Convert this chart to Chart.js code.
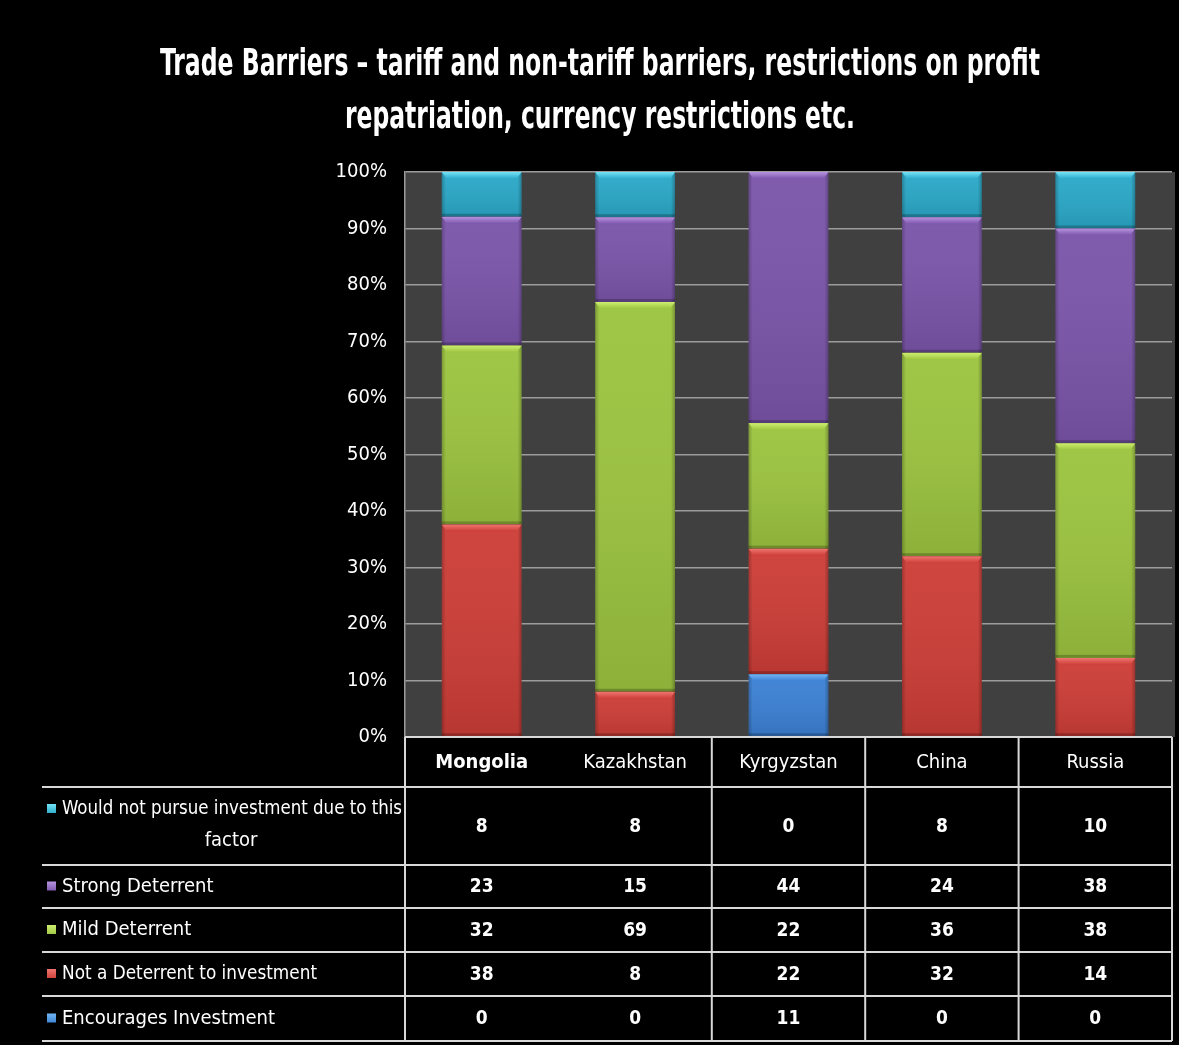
<!DOCTYPE html>
<html>
<head>
<meta charset="utf-8">
<script src="https://cdn.jsdelivr.net/npm/chart.js@4.4.1/dist/chart.umd.min.js"></script>
<style>
  html, body { margin: 0; padding: 0; background: #000; }
  #wrap { width: 1179px; height: 1045px; }
</style>
</head>
<body>
<div id="wrap"><canvas id="tradeChart" width="1179" height="1045"></canvas></div>
<script>
// survey responses per country (number of respondents)
const countries = ["Mongolia", "Kazakhstan", "Kyrgyzstan", "China", "Russia"];
const wouldNotPursue = [8, 8, 0, 8, 10];
const strongDeterrent = [23, 15, 44, 24, 38];
const mildDeterrent = [32, 69, 22, 36, 38];
const notDeterrent = [38, 8, 22, 32, 14];
const encourages = [0, 0, 11, 0, 0];

const titleLines = [
  "Trade Barriers \u2013 tariff and non-tariff barriers, restrictions on profit",
  "repatriation, currency restrictions etc."
];

// bottom-to-top stacking order
const series = [
  { label: "Encourages Investment", values: encourages, color: "#3b80d4", light: "#72b6f4" },
  { label: "Not a Deterrent to investment", values: notDeterrent, color: "#cd3d37", light: "#f07570" },
  { label: "Mild Deterrent", values: mildDeterrent, color: "#9cc43f", light: "#cdee70" },
  { label: "Strong Deterrent", values: strongDeterrent, color: "#7b55aa", light: "#b693e0" },
  { label: "Would not pursue investment due to this factor", values: wouldNotPursue, color: "#2aa8c8", light: "#74e4f7" }
];

const totals = countries.map((_, i) => series.reduce((s, d) => s + d.values[i], 0));

const FONT = "'Liberation Sans Narrow', 'DejaVu Sans Condensed', 'Noto Sans', sans-serif";
const LINE = "#d8d8d8";

// table rows under the plot, top to bottom (same order as the legend)
const tableRows = series.slice().reverse();
const rowEdges = [737, 787, 865, 908, 952, 996, 1041];
const tableLeft = 42;

function shade(ctx, x0, y0, x1, y1, light, base) {
  const w = x1 - x0, h = y1 - y0;
  if (h <= 0) return;
  // soft vertical shading
  const g = ctx.createLinearGradient(0, y0, 0, y1);
  g.addColorStop(0, "rgba(255,255,255,0.04)");
  g.addColorStop(1, "rgba(0,0,0,0.10)");
  ctx.fillStyle = g;
  ctx.fillRect(x0, y0, w, h);
  // side edges
  const sg = ctx.createLinearGradient(x0, 0, x1, 0);
  sg.addColorStop(0, "rgba(0,0,0,0.22)");
  sg.addColorStop(0.05, "rgba(0,0,0,0)");
  sg.addColorStop(0.95, "rgba(0,0,0,0)");
  sg.addColorStop(1, "rgba(0,0,0,0.25)");
  ctx.fillStyle = sg;
  ctx.fillRect(x0, y0, w, h);
  // bevelled top
  const b = Math.min(7, h / 2);
  const tg = ctx.createLinearGradient(0, y0, 0, y0 + b);
  tg.addColorStop(0, light);
  tg.addColorStop(1, base);
  ctx.fillStyle = tg;
  ctx.beginPath();
  ctx.moveTo(x0, y0);
  ctx.lineTo(x1, y0);
  ctx.lineTo(x1 - 5, y0 + b);
  ctx.lineTo(x0 + 5, y0 + b);
  ctx.closePath();
  ctx.fill();
  // darker bottom lip
  ctx.fillStyle = "rgba(0,0,0,0.22)";
  ctx.fillRect(x0, y1 - 3, w, 3);
}

const decorations = {
  id: "decorations",
  beforeDraw(chart) {
    const { ctx, chartArea: a } = chart;
    ctx.save();
    ctx.fillStyle = "#000";
    ctx.fillRect(0, 0, chart.width, chart.height);
    ctx.fillStyle = "#404040";
    ctx.fillRect(a.left, a.top, a.right - a.left + 3, a.bottom - a.top);
    // title
    ctx.fillStyle = "#fff";
    ctx.textAlign = "center";
    ctx.textBaseline = "alphabetic";
    ctx.font = "bold 38px " + FONT;
    ctx.fillText(titleLines[0], 600, 75, 880);
    ctx.fillText(titleLines[1], 600, 128, 510);
    ctx.restore();
  },
  afterDatasetsDraw(chart) {
    const { ctx } = chart;
    ctx.save();
    chart.data.datasets.forEach((ds, di) => {
      const meta = chart.getDatasetMeta(di);
      meta.data.forEach(bar => {
        const p = bar.getProps(["x", "y", "base", "width"], true);
        shade(ctx, p.x - p.width / 2, Math.min(p.y, p.base), p.x + p.width / 2, Math.max(p.y, p.base), series[di].light, series[di].color);
      });
    });
    ctx.restore();
  },
  afterDraw(chart) {
    const { ctx, chartArea: a } = chart;
    const x = chart.scales.x;
    ctx.save();
    ctx.strokeStyle = LINE;
    ctx.lineWidth = 2;
    // horizontal rules
    rowEdges.forEach((y, i) => {
      ctx.beginPath();
      ctx.moveTo(i === 0 ? a.left : tableLeft, y);
      ctx.lineTo(a.right, y);
      ctx.stroke();
    });
    // vertical rules between countries (none between the first two)
    const edges = [a.left];
    for (let i = 1; i < countries.length; i++) {
      edges.push((x.getPixelForValue(i - 1) + x.getPixelForValue(i)) / 2);
    }
    edges.push(a.right);
    edges.forEach((ex, i) => {
      if (i === 1) return;
      ctx.beginPath();
      ctx.moveTo(ex, rowEdges[0]);
      ctx.lineTo(ex, rowEdges[rowEdges.length - 1]);
      ctx.stroke();
    });

    ctx.fillStyle = "#fff";
    ctx.textAlign = "center";
    ctx.textBaseline = "middle";
    countries.forEach((c, i) => {
      ctx.font = (i === 0 ? "bold " : "") + "20px " + FONT;
      ctx.fillText(c, x.getPixelForValue(i), (rowEdges[0] + rowEdges[1]) / 2 + 1);
    });

    tableRows.forEach((s, r) => {
      const yc = (rowEdges[r + 1] + rowEdges[r + 2]) / 2;
      ctx.fillStyle = "#fff";
      ctx.font = "bold 19px " + FONT;
      ctx.textAlign = "center";
      s.values.forEach((v, i) => ctx.fillText(String(v), x.getPixelForValue(i), yc + 1));

      // legend key
      const ly = r === 0 ? yc - 17 : yc;
      const kg = ctx.createLinearGradient(0, ly - 5, 0, ly + 5);
      kg.addColorStop(0, s.light);
      kg.addColorStop(1, s.color);
      ctx.fillStyle = kg;
      ctx.fillRect(47, ly - 5, 9, 9);
      ctx.fillStyle = "#fff";
      ctx.font = "20px " + FONT;
      ctx.textAlign = "left";
      if (r === 0) {
        ctx.fillText("Would not pursue investment due to this", 62, ly, 340);
        ctx.textAlign = "center";
        ctx.fillText("factor", 231, yc + 15);
      } else {
        ctx.fillText(s.label, 62, yc, 255);
      }
    });
    ctx.restore();
  }
};

new Chart(document.getElementById("tradeChart"), {
  type: "bar",
  data: {
    labels: countries,
    datasets: series.map(s => ({
      label: s.label,
      data: s.values.map((v, i) => v / totals[i] * 100),
      backgroundColor: s.color,
      borderWidth: 0,
      categoryPercentage: 1,
      barPercentage: 0.52
    }))
  },
  options: {
    responsive: false,
    animation: false,
    devicePixelRatio: 1,
    layout: { padding: { top: 172, bottom: 308, left: 0, right: 7 } },
    plugins: {
      legend: { display: false },
      title: { display: false },
      tooltip: { enabled: false }
    },
    scales: {
      x: { stacked: true, display: false },
      y: {
        stacked: true,
        min: 0,
        max: 100,
        afterFit(scale) { scale.width = 405; },
        ticks: {
          stepSize: 10,
          padding: 18,
          color: "#fff",
          font: { family: FONT, size: 20 },
          callback: v => v + "%"
        },
        grid: { color: "#9c9c9c", lineWidth: 1.5, drawTicks: false },
        border: { display: true, color: "#9c9c9c", width: 1.5 }
      }
    }
  },
  plugins: [decorations]
});
</script>
</body>
</html>
